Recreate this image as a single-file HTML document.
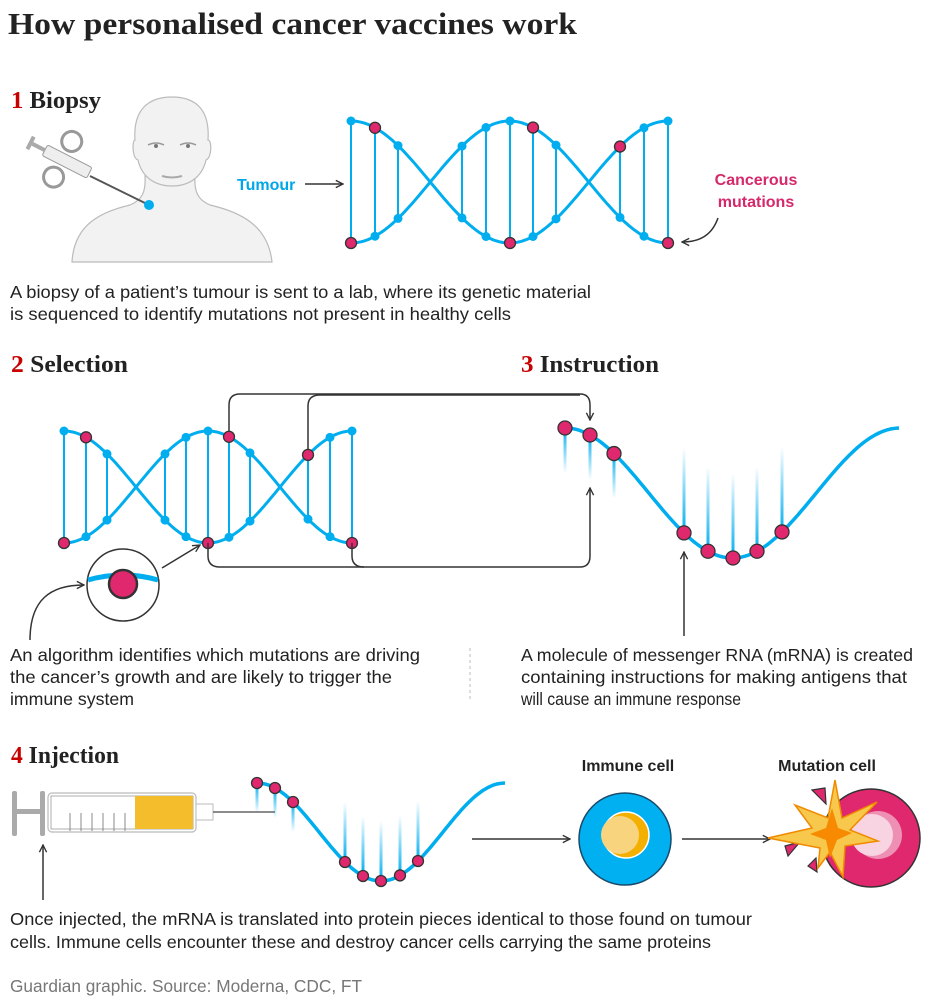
<!DOCTYPE html>
<html><head><meta charset="utf-8"><style>
html,body{margin:0;padding:0;background:#fff}
svg{display:block}
.t{font-family:"Liberation Serif",serif;font-weight:bold;fill:#222}
.s{font-family:"Liberation Sans",sans-serif;fill:#222;font-size:17.5px}
</style></head><body>
<svg id="g" width="927" height="1001" viewBox="0 0 927 1001" xmlns="http://www.w3.org/2000/svg">
<defs>
<linearGradient id="fd" x1="0" y1="0" x2="0" y2="1"><stop offset="0" stop-color="#00aeef"/><stop offset="1" stop-color="#00aeef" stop-opacity="0"/></linearGradient>
<linearGradient id="fu" x1="0" y1="1" x2="0" y2="0"><stop offset="0" stop-color="#00aeef"/><stop offset="1" stop-color="#00aeef" stop-opacity="0"/></linearGradient>
<marker id="ar" viewBox="0 0 10 10" refX="9" refY="5" markerWidth="9" markerHeight="9" orient="auto" markerUnits="userSpaceOnUse"><path d="M1 1 L9 5 L1 9" fill="none" stroke="#333" stroke-width="1.5"/></marker>
</defs>
<text class="t" x="8" y="34" font-size="31" textLength="569" lengthAdjust="spacingAndGlyphs">How personalised cancer vaccines work</text>

<text class="t" x="11" y="108" font-size="24" textLength="90" lengthAdjust="spacingAndGlyphs"><tspan fill="#c70000">1</tspan> Biopsy</text>
<text class="t" x="11" y="372" font-size="24" textLength="117" lengthAdjust="spacingAndGlyphs"><tspan fill="#c70000">2</tspan> Selection</text>
<text class="t" x="521" y="372" font-size="24" textLength="138" lengthAdjust="spacingAndGlyphs"><tspan fill="#c70000">3</tspan> Instruction</text>
<text class="t" x="11" y="763" font-size="24" textLength="108" lengthAdjust="spacingAndGlyphs"><tspan fill="#c70000">4</tspan> Injection</text>

<!-- person -->
<g>
<path d="M72 262 C74 225 100 212 130 205 C142 200 146 192 145 176 L195 176 C194 192 198 200 210 205 C240 212 268 225 272 262 Z" fill="#f2f2f2" stroke="#bbb" stroke-width="1.2"/>
<path d="M135 140 C133 110 148 97 172 97 C196 97 210 110 208 140 C212 140 212 158 206 160 C202 178 188 186 172 186 C156 186 142 178 138 160 C132 158 132 140 135 140 Z" fill="#f2f2f2" stroke="#bbb" stroke-width="1.2"/>
<path d="M148 145 q8-4 16 0 M180 145 q8-4 16 0" stroke="#999" stroke-width="1.5" fill="none"/>
<circle cx="156" cy="146" r="2" fill="#777"/><circle cx="188" cy="146" r="2" fill="#777"/>
<path d="M162 176 q10 3 20 0" stroke="#aaa" stroke-width="2" fill="none"/>
<line x1="90" y1="176" x2="149" y2="205" stroke="#555" stroke-width="2"/>
<g transform="translate(68 162) rotate(27)">
<rect x="-26" y="-6" width="50" height="12" rx="2" fill="#eee" stroke="#999"/>
<rect x="-40" y="-2" width="14" height="4" fill="#aaa"/>
<rect x="-44" y="-7" width="4" height="14" fill="#aaa"/>
<circle cx="-6" cy="-20" r="10" fill="none" stroke="#999" stroke-width="3"/>
<circle cx="-6" cy="20" r="10" fill="none" stroke="#999" stroke-width="3"/>
</g>
<circle cx="149" cy="205" r="5" fill="#00aeef"/>
</g>
<text x="237" y="190" font-family="Liberation Sans,sans-serif" font-weight="bold" font-size="16" fill="#00a7e8">Tumour</text>
<line x1="305" y1="184" x2="343" y2="184" stroke="#333" stroke-width="1.5" marker-end="url(#ar)"/>
<text x="756" y="185" text-anchor="middle" font-family="Liberation Sans,sans-serif" font-weight="bold" font-size="16" fill="#d6286b">Cancerous</text>
<text x="756" y="207" text-anchor="middle" font-family="Liberation Sans,sans-serif" font-weight="bold" font-size="16" fill="#d6286b">mutations</text>
<path d="M718 218 C712 235 700 242 682 242" fill="none" stroke="#333" stroke-width="1.5" marker-end="url(#ar)"/>

<g id="h1"></g><g id="h2"></g><g id="m1"></g><g id="m2"></g>

<text class="s" x="10" y="298" textLength="581" lengthAdjust="spacingAndGlyphs">A biopsy of a patient’s tumour is sent to a lab, where its genetic material</text>
<text class="s" x="10" y="320" textLength="501" lengthAdjust="spacingAndGlyphs">is sequenced to identify mutations not present in healthy cells</text>

<!-- connectors -->
<g fill="none" stroke="#333" stroke-width="1.5">
<path d="M229 432 V405 Q229 394 240 394 H580 Q590 394 590 405 V420" marker-end="url(#ar)"/>
<path d="M308 450 V406 Q308 395 320 395 H580"/>
<path d="M208 543 V556 Q208 567 220 567 H580 Q590 567 590 556 V488" marker-end="url(#ar)"/>
<path d="M352 543 V556 Q352 567 364 567"/>
<path d="M162 568 L200 545" marker-end="url(#ar)"/>
<path d="M30 640 C30 600 50 585 84 585" marker-end="url(#ar)"/>
<path d="M684 636 V552" marker-end="url(#ar)"/>
<path d="M43 900 V845" marker-end="url(#ar)"/>
<path d="M472 839 H570" marker-end="url(#ar)"/>
<path d="M682 839 H770" marker-end="url(#ar)"/>
</g>
<circle cx="123" cy="585" r="36" fill="#fff" stroke="#333" stroke-width="1.5"/>
<path d="M88 580 Q123 570 158 580" stroke="#00aeef" stroke-width="5" fill="none"/>
<circle cx="123" cy="584" r="14" fill="#e0286e" stroke="#333" stroke-width="2.5"/>

<line x1="470" y1="648" x2="470" y2="702" stroke="#bbb" stroke-dasharray="3 3"/>

<text class="s" x="10" y="661" textLength="410" lengthAdjust="spacingAndGlyphs">An algorithm identifies which mutations are driving</text>
<text class="s" x="10" y="683" textLength="382" lengthAdjust="spacingAndGlyphs">the cancer’s growth and are likely to trigger the</text>
<text class="s" x="10" y="705" textLength="124" lengthAdjust="spacingAndGlyphs">immune system</text>
<text class="s" x="521" y="661" textLength="392" lengthAdjust="spacingAndGlyphs">A molecule of messenger RNA (mRNA) is created</text>
<text class="s" x="521" y="683" textLength="386" lengthAdjust="spacingAndGlyphs">containing instructions for making antigens that</text>
<text class="s" x="521" y="705" textLength="220" lengthAdjust="spacingAndGlyphs">will cause an immune response</text>

<!-- syringe -->
<rect x="12" y="791" width="5" height="45" rx="2" fill="#aaa"/>
<rect x="12" y="809" width="30" height="5" fill="#aaa"/>
<rect x="40" y="791" width="5" height="45" rx="2" fill="#aaa"/>
<rect x="48" y="793" width="148" height="39" rx="4" fill="#fff" stroke="#bbb" stroke-width="1.2"/>
<rect x="51" y="796" width="142" height="33" fill="#fff" stroke="#999" stroke-width="0.8"/>
<rect x="135" y="796" width="58" height="33" fill="#f4bd2b"/>
<g stroke="#888" stroke-width="1"><line x1="70" y1="813" x2="70" y2="831"/><line x1="81" y1="813" x2="81" y2="831"/><line x1="92" y1="813" x2="92" y2="831"/><line x1="103" y1="813" x2="103" y2="831"/><line x1="114" y1="813" x2="114" y2="831"/><line x1="125" y1="813" x2="125" y2="831"/></g>
<rect x="196" y="804" width="17" height="16" fill="#fff" stroke="#bbb"/>
<line x1="213" y1="812" x2="275" y2="812" stroke="#666" stroke-width="1.5"/>

<text x="628" y="771" text-anchor="middle" font-family="Liberation Sans,sans-serif" font-weight="bold" font-size="16" fill="#222">Immune cell</text>
<text x="827" y="771" text-anchor="middle" font-family="Liberation Sans,sans-serif" font-weight="bold" font-size="16" fill="#222">Mutation cell</text>
<circle cx="625" cy="839" r="46" fill="#00b0f0" stroke="#1a4a6a" stroke-width="1.5"/>
<circle cx="626" cy="835" r="23" fill="#f4b000" stroke="#fff" stroke-width="1.5"/>
<circle cx="620" cy="835" r="19" fill="#f8d47e"/>
<circle cx="871" cy="838" r="49" fill="#e0286e" stroke="#333" stroke-width="1.5"/>
<circle cx="878" cy="835" r="24" fill="#ee90b4"/>
<circle cx="872" cy="835" r="21" fill="#f8d4e2"/>
<path d="M812 790 L825 788 L826 804 Z M785 846 L800 842 L788 856 Z M808 866 L816 858 L817 872 Z" fill="#e0286e" stroke="#333" stroke-width="1.2"/>
<polygon points="835,780 842,818 877,802 850,830 878,841 845,846 843,877 830,852 818,868 820,848 768,838 812,828 795,805 828,818" fill="#f8c84c" stroke="#f08a00" stroke-width="1.5"/>
<polygon points="832,808 838,828 852,833 837,840 830,858 826,840 810,834 826,828" fill="#f78a00"/>

<text class="s" x="10" y="925" textLength="742" lengthAdjust="spacingAndGlyphs">Once injected, the mRNA is translated into protein pieces identical to those found on tumour</text>
<text class="s" x="10" y="948" textLength="701" lengthAdjust="spacingAndGlyphs">cells. Immune cells encounter these and destroy cancer cells carrying the same proteins</text>
<text class="s" x="10" y="992" style="fill:#777" textLength="352" lengthAdjust="spacingAndGlyphs">Guardian graphic. Source: Moderna, CDC, FT</text>
</svg>
<script>
var NS="http://www.w3.org/2000/svg",B="#00aeef",P="#e0286e";
function el(p,n,a){var e=document.createElementNS(NS,n);for(var k in a)e.setAttribute(k,a[k]);p.appendChild(e);return e;}
function helix(id,x0,x1,yt,yb,rungs,pinks){
 var g=document.getElementById(id),mid=(yt+yb)/2,amp=(yb-yt)/2,w=2*Math.PI/(x1-x0);
 function ya(x){return mid-amp*Math.cos(w*(x-x0));}
 function yb2(x){return mid+amp*Math.cos(w*(x-x0));}
 var a="",b="";
 for(var x=x0;x<=x1+0.1;x+=2){a+=(x==x0?"M":"L")+x+" "+ya(x).toFixed(1);b+=(x==x0?"M":"L")+x+" "+yb2(x).toFixed(1);}
 el(g,"path",{d:a,fill:"none",stroke:B,"stroke-width":3});
 el(g,"path",{d:b,fill:"none",stroke:B,"stroke-width":3});
 rungs.forEach(function(rx,i){
  var y1=ya(rx),y2=yb2(rx),t=Math.min(y1,y2),bo=Math.max(y1,y2);
  el(g,"line",{x1:rx,y1:t,x2:rx,y2:bo,stroke:B,"stroke-width":2});
  [["t",t],["b",bo]].forEach(function(q){
   var pk=pinks.indexOf(i+q[0])>=0;
   el(g,"circle",pk?{cx:rx,cy:q[1],r:5.5,fill:P,stroke:"#333","stroke-width":1.3}:{cx:rx,cy:q[1],r:4.5,fill:B});
  });
 });
}
helix("h1",351,668,121,243,[351,375,398,462,486,510,533,556,620,644,668],["0b","1t","5b","6t","8t","10b"]);
helix("h2",64,352,431,543,[64,86,107,165,186,208,229,250,308,330,352],["0b","1t","5b","6t","8t","10b"]);
function mrna(id,x0,x1,yt,yb,tops,bots,r,tl,bl){
 var g=document.getElementById(id),mid=(yt+yb)/2,amp=(yb-yt)/2,w=2*Math.PI/(x1-x0);
 function y(x){return mid-amp*Math.cos(w*(x-x0));}
 tops.forEach(function(x){el(g,"rect",{x:x-1.5,y:y(x),width:3,height:tl,fill:"url(#fd)"});});
 bots.forEach(function(x){el(g,"rect",{x:x-1.5,y:y(x)-bl,width:3,height:bl,fill:"url(#fu)"});});
 var d="";for(var x=x0;x<=x1+0.1;x+=2)d+=(x==x0?"M":"L")+x+" "+y(x).toFixed(1);
 el(g,"path",{d:d,fill:"none",stroke:B,"stroke-width":3.5});
 tops.concat(bots).forEach(function(x){el(g,"circle",{cx:x,cy:y(x),r:r,fill:P,stroke:"#333","stroke-width":1.3});});
}
mrna("m1",565,900,428,558,[565,590,614],[684,708,733,757,782],7,45,85);
mrna("m2",257,505,783,881,[257,275,293],[345,363,381,400,418],5.5,30,60);
</script>
</body></html>
